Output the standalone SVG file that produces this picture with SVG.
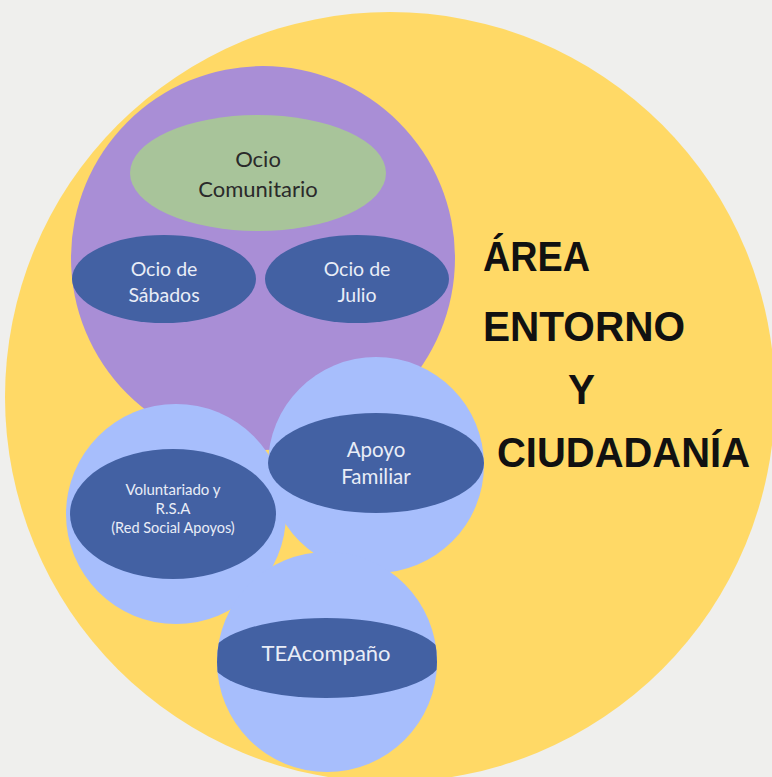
<svg xmlns="http://www.w3.org/2000/svg" width="772" height="777" viewBox="0 0 772 777">
<defs>
<style>
.lbl{font-family:Lato,"Open Sans","Liberation Sans",sans-serif;text-anchor:middle}
.w{fill:#e9edf7}
.d{fill:#2a2a2a}
.dark{fill:#4361a3}
.light{fill:#a7befc}
.title{font-family:"Liberation Sans",Arial,sans-serif;font-weight:bold;fill:#111;font-size:42px}
</style>
<clipPath id="teaClip"><circle cx="327" cy="662" r="110"/></clipPath>
</defs>
<rect width="772" height="777" fill="#efefed"/>
<g id="area-entorno">
<circle cx="390" cy="397" r="385" fill="#ffd966"/>
<text class="title" x="483" y="271" textLength="107" lengthAdjust="spacingAndGlyphs">ÁREA</text>
<text class="title" x="483" y="341" textLength="202" lengthAdjust="spacingAndGlyphs">ENTORNO</text>
<text class="title" x="568" y="404" textLength="27" lengthAdjust="spacingAndGlyphs">Y</text>
<text class="title" x="497" y="467" textLength="253" lengthAdjust="spacingAndGlyphs">CIUDADANÍA</text>
</g>
<g id="ocio">
<circle cx="263" cy="258" r="192" fill="#a98ed6"/>
</g>
<g id="ocio-comunitario">
<ellipse cx="258" cy="173" rx="128" ry="58" fill="#a8c49a"/>
<text class="lbl d" x="258" y="167" font-size="22">Ocio</text>
<text class="lbl d" x="258" y="197" font-size="22">Comunitario</text>
</g>
<g id="ocio-sabados">
<ellipse class="dark" cx="164" cy="279" rx="92" ry="44"/>
<text class="lbl w" x="164" y="276" font-size="19.5">Ocio de</text>
<text class="lbl w" x="164" y="302" font-size="19.5">Sábados</text>
</g>
<g id="ocio-julio">
<ellipse class="dark" cx="357" cy="279" rx="92" ry="44"/>
<text class="lbl w" x="357" y="276" font-size="19.5">Ocio de</text>
<text class="lbl w" x="357" y="302" font-size="19.5">Julio</text>
</g>
<g id="voluntariado">
<circle class="light" cx="176" cy="514" r="110"/>
<ellipse class="dark" cx="173" cy="514" rx="103" ry="65"/>
<text class="lbl w" x="173" y="495" font-size="15">Voluntariado y</text>
<text class="lbl w" x="173" y="514" font-size="15">R.S.A</text>
<text class="lbl w" x="173" y="533" font-size="14.5">(Red Social Apoyos)</text>
</g>
<g id="apoyo-familiar">
<circle class="light" cx="376" cy="465" r="108"/>
<ellipse class="dark" cx="376" cy="463" rx="108" ry="50"/>
<text class="lbl w" x="376" y="457" font-size="20.5">Apoyo</text>
<text class="lbl w" x="376" y="484" font-size="20.5">Familiar</text>
</g>
<g id="teacompano">
<circle class="light" cx="327" cy="662" r="110"/>
<ellipse class="dark" cx="326" cy="658" rx="116" ry="40" clip-path="url(#teaClip)"/>
<text class="lbl w" x="326" y="661" font-size="22">TEAcompaño</text>
</g>
<g id="connectors"/>
</svg>
